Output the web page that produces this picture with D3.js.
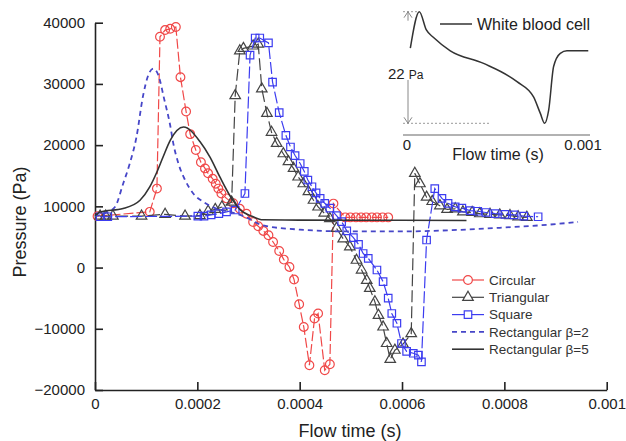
<!DOCTYPE html>
<html>
<head>
<meta charset="utf-8">
<script src="https://cdn.jsdelivr.net/npm/d3@7"></script>
<style>
  body { margin: 0; background: #fff; }
  svg { font-family: Arial, "Liberation Sans", sans-serif; }
</style>
</head>
<body>
<div id="chart"></div>
<script>
// time values are in units of 1e-4 s, pressure in Pa
var xTicks = [0, 2, 4, 6, 8, 10];
var xTickLabels = ["0", "0.0002", "0.0004", "0.0006", "0.0008", "0.001"];
var yTicks = [-20000, -10000, 0, 10000, 20000, 30000, 40000];

var circularT = [0.05, 1.07, 1.21, 1.27, 1.37, 1.47, 1.58, 1.67, 1.78, 1.86, 1.97, 2.07, 2.15, 2.21, 2.30, 2.36, 2.41, 2.47, 2.57, 2.70, 2.83, 2.96, 3.09, 3.19, 3.29, 3.39, 3.48, 3.60, 3.69, 3.80, 3.89, 3.99, 4.08, 4.19, 4.29, 4.36, 4.49, 4.59, 4.66, 4.89, 4.99, 5.10, 5.20, 5.30, 5.41, 5.51, 5.62, 5.73];
var circularP = [8400, 9100, 12900, 37700, 38800, 39000, 39300, 31100, 25500, 21800, 19200, 17200, 16200, 15400, 14500, 13700, 12900, 12100, 11300, 10500, 9600, 8800, 7450, 6750, 5980, 5280, 4180, 2710, 1300, 100, -1960, -5990, -9700, -15960, -8330, -7510, -16770, -15800, 10450, 8200, 8200, 8200, 8200, 8200, 8200, 8200, 8200, 8200];

var triangularT = [0.10, 0.21, 0.35, 0.91, 1.37, 1.76, 2.05, 2.21, 2.35, 2.48, 2.67, 2.74, 2.83, 2.90, 3.09, 3.19, 3.26, 3.36, 3.45, 3.55, 3.68, 3.78, 3.88, 3.97, 4.07, 4.17, 4.27, 4.36, 4.48, 4.59, 4.72, 4.85, 4.98, 5.11, 5.21, 5.31, 5.37, 5.47, 5.54, 5.63, 5.70, 5.77, 5.86, 6.02, 6.18, 6.25, 6.35, 6.48, 6.59, 6.74, 6.88, 7.04, 7.19, 7.37, 7.52, 7.72, 7.91, 8.11, 8.27, 8.44];
var triangularP = [8400, 8400, 8400, 8400, 8700, 8400, 8500, 9200, 9500, 9900, 10700, 28100, 35400, 35800, 36200, 36500, 29200, 25200, 22100, 20300, 18600, 17300, 16200, 14800, 13700, 12400, 11000, 9900, 8900, 8000, 6400, 4700, 3400, 1200, -400, -2100, -3400, -5600, -7800, -9700, -12400, -15000, -13500, -12500, -10800, 15400, 13700, 11500, 10800, 10100, 9500, 9600, 9100, 9000, 8800, 8700, 8600, 8500, 8300, 8200];

var squareT = [0.10, 0.25, 2.01, 2.13, 2.27, 2.42, 2.57, 2.74, 2.93, 3.03, 3.13, 3.22, 3.39, 3.47, 3.60, 3.73, 3.82, 3.91, 4.01, 4.09, 4.16, 4.24, 4.32, 4.40, 4.49, 4.59, 4.72, 4.82, 4.92, 5.05, 5.15, 5.24, 5.34, 5.51, 5.63, 5.73, 5.80, 5.90, 5.99, 6.09, 6.22, 6.32, 6.38, 6.48, 6.64, 6.78, 6.90, 7.04, 7.17, 7.33, 7.48, 7.64, 7.82, 8.01, 8.19, 8.38, 8.66];
var squareP = [8300, 8300, 8400, 8400, 8600, 8800, 9100, 9400, 12100, 34700, 37500, 37500, 36700, 30300, 25300, 21600, 19700, 18300, 17000, 15700, 14300, 13200, 12200, 11300, 10500, 9700, 8500, 7500, 6000, 4900, 3800, 2300, 1500, -400, -2300, -5000, -7500, -9100, -12400, -13700, -14000, -14300, -15400, 4500, 12900, 11300, 10500, 9900, 9700, 9300, 9200, 9000, 8800, 8700, 8600, 8400, 8300];

var rect2T = [0, 0.20, 0.39, 0.55, 0.68, 0.81, 0.94, 1.04, 1.14, 1.24, 1.35, 1.47, 1.53, 1.63, 1.76, 1.92, 2.12, 2.38, 2.64, 2.93, 3.28, 4.0, 4.98, 5.96, 6.94, 7.91, 8.70, 9.44];
var rect2P = [8400, 8900, 9900, 13700, 17000, 21300, 28100, 31400, 32500, 31400, 27600, 23200, 20300, 17000, 14300, 12100, 10700, 9600, 9100, 8300, 6900, 6200, 5900, 5900, 6100, 6500, 6900, 7450];

var rect5T = [0, 0.10, 0.55, 0.88, 1.07, 1.21, 1.33, 1.47, 1.73, 2.05, 2.25, 2.44, 2.64, 2.83, 3.09, 3.28, 4.0, 5.96, 7.26];
var rect5P = [8500, 9080, 9640, 11000, 13170, 15610, 18060, 20790, 22960, 20600, 18000, 14800, 11700, 9500, 8300, 7800, 7750, 7720, 7700];

// inset: white blood cell (time in s, pressure in Pa above minimum)
var wbcT = [0.000019, 0.00007, 0.00011, 0.000151, 0.000246, 0.000435, 0.000625, 0.000719, 0.000757, 0.000782, 0.000805, 0.000833, 0.000871, 0.000909, 0.00103];
var wbcP = [14.8, 22, 18.4, 16.9, 14.3, 11.8, 8.2, 5.2, 2.0, 0, 2.6, 11.2, 13.8, 14.3, 14.3];

var seriesNames = ["Circular", "Triangular", "Square", "Rectangular \u03b2=2", "Rectangular \u03b2=5"];

var width = 626, height = 441;
var svg = d3.select("#chart").append("svg")
  .attr("width", width)
  .attr("height", height);

var x = d3.scaleLinear().domain([0, 10]).range([95, 606.7]);
var y = d3.scaleLinear().domain([-20000, 40000]).range([390, 22.7]);

function zip(t, p) { return t.map(function (d, i) { return [d, p[i]]; }); }

var series = [
  { name: seriesNames[0], data: zip(circularT, circularP), color: "#f04848", dash: "10,3", marker: "circle", curve: d3.curveLinear, width: 1.2 },
  { name: seriesNames[1], data: zip(triangularT, triangularP), color: "#444", dash: "12,4", marker: "triangle", curve: d3.curveLinear, width: 1.2 },
  { name: seriesNames[2], data: zip(squareT, squareP), color: "#3c3cf0", dash: "12,3", marker: "square", curve: d3.curveLinear, width: 1.2 },
  { name: seriesNames[3], data: zip(rect2T, rect2P), color: "#4646c8", dash: "5,4", marker: null, curve: d3.curveMonotoneX, width: 1.8 },
  { name: seriesNames[4], data: zip(rect5T, rect5P), color: "#333", dash: null, marker: null, curve: d3.curveMonotoneX, width: 1.6 }
];

var symbols = {
  circle: d3.symbol().type(d3.symbolCircle).size(60),
  triangle: d3.symbol().type(d3.symbolTriangle).size(48),
  square: d3.symbol().type(d3.symbolSquare).size(56)
};

// axes
var xAxis = svg.append("g")
  .attr("transform", "translate(0,390)")
  .call(d3.axisBottom(x).tickValues(xTicks).tickSize(-8).tickSizeOuter(0).tickPadding(8)
    .tickFormat(function (d, i) { return xTickLabels[i]; }));
var yAxis = svg.append("g")
  .attr("transform", "translate(95,0)")
  .call(d3.axisLeft(y).tickValues(yTicks).tickSize(-8).tickSizeOuter(0).tickPadding(10)
    .tickFormat(d3.format("d")));

[xAxis, yAxis].forEach(function (g) {
  g.select(".domain").attr("stroke", "#222").attr("stroke-width", 1.6);
  g.selectAll(".tick line").attr("stroke", "#222").attr("stroke-width", 1.6);
  g.selectAll(".tick text").attr("fill", "#222").style("font-size", "15px");
});

svg.append("text")
  .attr("x", 350)
  .attr("y", 437)
  .attr("text-anchor", "middle")
  .attr("fill", "#222")
  .style("font-size", "18px")
  .text("Flow time (s)");

svg.append("text")
  .attr("transform", "translate(26,222) rotate(-90)")
  .attr("text-anchor", "middle")
  .attr("fill", "#222")
  .style("font-size", "18px")
  .text("Pressure (Pa)");

// lines
var line = d3.line()
  .x(function (d) { return x(d[0]); })
  .y(function (d) { return y(d[1]); });

series.forEach(function (s) {
  svg.append("path")
    .datum(s.data)
    .attr("fill", "none")
    .attr("stroke", s.color)
    .attr("stroke-width", s.width)
    .attr("stroke-dasharray", s.dash)
    .attr("d", line.curve(s.curve));

  if (s.marker) {
    svg.append("g").selectAll("path")
      .data(s.data)
      .enter()
      .append("path")
      .attr("d", symbols[s.marker])
      .attr("transform", function (d) { return "translate(" + x(d[0]) + "," + y(d[1]) + ")"; })
      .attr("fill", "none")
      .attr("stroke", s.color)
      .attr("stroke-width", 1.2);
  }
});

// legend
var legend = svg.append("g").attr("transform", "translate(452,280)");
series.forEach(function (s, i) {
  var row = legend.append("g").attr("transform", "translate(0," + (i * 17.3) + ")");
  row.append("line")
    .attr("x1", 0).attr("x2", 32)
    .attr("stroke", s.color)
    .attr("stroke-width", s.marker ? 1.2 : s.width)
    .attr("stroke-dasharray", s.marker ? null : s.dash);
  if (s.marker) {
    row.append("path")
      .attr("d", symbols[s.marker])
      .attr("transform", "translate(16,0)")
      .attr("fill", "#fff")
      .attr("stroke", s.color)
      .attr("stroke-width", 1.2);
  }
  row.append("text")
    .attr("x", 37)
    .attr("dy", "0.35em")
    .attr("fill", "#333")
    .style("font-size", "13.5px")
    .text(s.name);
});

// inset
var xi = d3.scaleLinear().domain([0, 0.001]).range([407, 583]);
var yi = d3.scaleLinear().domain([0, 22]).range([123.3, 11.7]);
var inset = svg.append("g");

inset.append("line")
  .attr("x1", 403).attr("x2", 590)
  .attr("y1", 135).attr("y2", 135)
  .attr("stroke", "#999").attr("stroke-width", 1.5);
inset.append("text").attr("x", xi(0)).attr("y", 150).attr("text-anchor", "middle")
  .attr("fill", "#222").style("font-size", "15px").text("0");
inset.append("text").attr("x", xi(0.001)).attr("y", 150).attr("text-anchor", "middle")
  .attr("fill", "#222").style("font-size", "15px").text("0.001");
inset.append("text").attr("x", 498).attr("y", 160).attr("text-anchor", "middle")
  .attr("fill", "#222").style("font-size", "16px").text("Flow time (s)");

// reference lines for the 22 Pa span
inset.append("line")
  .attr("x1", 403).attr("x2", 419).attr("y1", yi(22)).attr("y2", yi(22))
  .attr("stroke", "#999").attr("stroke-dasharray", "2,2");
inset.append("line")
  .attr("x1", 403).attr("x2", 490).attr("y1", yi(0)).attr("y2", yi(0))
  .attr("stroke", "#999").attr("stroke-dasharray", "2,2");
inset.append("line")
  .attr("x1", 408).attr("x2", 408).attr("y1", yi(22)).attr("y2", yi(22) + 9)
  .attr("stroke", "#888");
inset.append("path")
  .attr("d", "M404," + (yi(22) + 6) + "L408," + yi(22) + "L412," + (yi(22) + 6))
  .attr("fill", "none").attr("stroke", "#888");
inset.append("line")
  .attr("x1", 408).attr("x2", 408).attr("y1", 80).attr("y2", yi(0))
  .attr("stroke", "#888");
inset.append("path")
  .attr("d", "M404," + (yi(0) - 6) + "L408," + yi(0) + "L412," + (yi(0) - 6))
  .attr("fill", "none").attr("stroke", "#888");
var lab = inset.append("text").attr("x", 388).attr("y", 79).attr("fill", "#222");
lab.append("tspan").style("font-size", "15px").text("22 ");
lab.append("tspan").style("font-size", "12px").text("Pa");

var lineI = d3.line()
  .x(function (d) { return xi(d[0]); })
  .y(function (d) { return yi(d[1]); })
  .curve(d3.curveMonotoneX);
inset.append("path")
  .datum(zip(wbcT, wbcP))
  .attr("fill", "none")
  .attr("stroke", "#333")
  .attr("stroke-width", 1.5)
  .attr("d", lineI);

inset.append("line")
  .attr("x1", 440).attr("x2", 472).attr("y1", 24).attr("y2", 24)
  .attr("stroke", "#333").attr("stroke-width", 1.5);
inset.append("text")
  .attr("x", 477).attr("y", 24).attr("dy", "0.35em")
  .attr("fill", "#222").style("font-size", "16px")
  .text("White blood cell");
</script>
</body>
</html>
